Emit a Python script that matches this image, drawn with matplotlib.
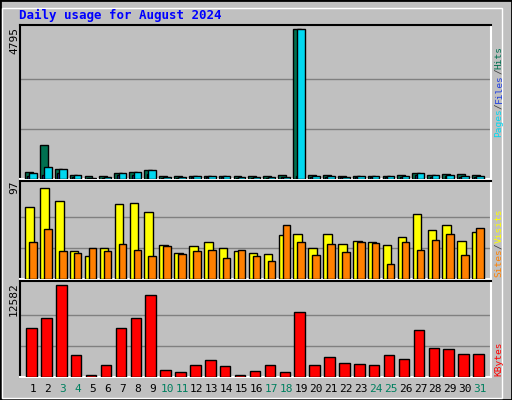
import numpy as np
import matplotlib
matplotlib.use('Agg')
import matplotlib.pyplot as plt
from matplotlib.patches import Rectangle

days = list(range(1, 32))
weekend = [3, 4, 10, 11, 17, 18, 24, 25, 31]
hits = [239, 1085, 336, 141, 87, 108, 206, 239, 304, 87, 87, 108, 108, 108, 87, 87, 87, 141,
        4795, 141, 141, 108, 108, 108, 108, 141, 206, 141, 174, 174, 141]
files = [108, 130, 195, 65, 20, 40, 130, 140, 150, 40, 40, 60, 60, 60, 40, 40, 40, 50,
         100, 60, 60, 50, 60, 60, 60, 60, 130, 70, 90, 70, 60]
pages = [206, 369, 336, 141, 33, 65, 206, 239, 304, 65, 65, 108, 108, 108, 65, 65, 65, 65,
         4795, 108, 108, 65, 108, 108, 108, 108, 206, 141, 141, 108, 108]
visits = [75, 95, 81, 29, 24, 32, 78, 79, 70, 35, 27, 34, 38, 32, 29, 27, 26, 46,
          47, 32, 47, 36, 40, 38, 35, 44, 68, 51, 56, 40, 49]
sites = [38, 52, 29, 27, 32, 29, 36, 30, 24, 34, 26, 29, 30, 22, 30, 24, 19, 56,
         38, 25, 36, 28, 38, 37, 16, 38, 30, 41, 47, 25, 53]
kbytes = [6634, 8006, 12582, 3065, 320, 1693, 6634, 8006, 11209, 1006, 732, 1693, 2379, 1556,
          320, 869, 1693, 732, 8830, 1693, 2791, 1967, 1830, 1693, 3065, 2516, 6359, 3889,
          3752, 3203, 3203]

W, H = 512, 400
fig = plt.figure(figsize=(W / 100, H / 100), dpi=100)
fig.patch.set_facecolor('#c0c0c0')
# outer frame
fig.patches.append(Rectangle((0, 0), 1, 1, transform=fig.transFigure, fill=False,
                             edgecolor='black', linewidth=2))
fig.patches.append(Rectangle((2 / W, 2 / H), 1 - 12 / W, 1 - 10 / H, transform=fig.transFigure,
                             fill=False, edgecolor='white', linewidth=1))

mono = 'DejaVu Sans Mono'
x = np.array(days)
xl = (0.128, 31.74)


def panel(top, bottom):
    ax = fig.add_axes([20 / W, 1 - bottom / H, 471 / W, (bottom - top) / H])
    ax.set_facecolor('#c0c0c0')
    ax.set_xlim(*xl)
    ax.set_xticks([])
    ax.set_yticks([])
    for s in ax.spines.values():
        s.set_color('white')
        s.set_linewidth(1.5)
    ax.spines['top'].set_color('black')
    ax.spines['left'].set_color('black')
    return ax


def bars(ax, vals, left, right, color):
    ax.bar(x + (left + right) / 2, vals, width=right - left, color=color,
           edgecolor='black', linewidth=1, zorder=3)


def grid(ax, ymax):
    for f in (1 / 3, 2 / 3):
        ax.axhline(ymax * f, color='#808080', linewidth=1, zorder=1)


ax1 = panel(25, 179)
m1 = max(hits)
ax1.set_ylim(0, m1 * 1.03)
grid(ax1, m1)
bars(ax1, hits, -0.54, -0.02, '#007050')
bars(ax1, files, -0.38, -0.25, '#2040e0')
bars(ax1, pages, -0.25, 0.25, '#00d8f0')

ax2 = panel(181, 279)
m2 = 97
ax2.set_ylim(0, m2 * 1.05)
grid(ax2, m2)
bars(ax2, visits, -0.52, 0.05, '#ffff00')
bars(ax2, sites, -0.25, 0.25, '#ff8000')

ax3 = panel(281, 377)
m3 = max(kbytes)
ax3.set_ylim(0, m3 * 1.04)
grid(ax3, m3)
bars(ax3, kbytes, -0.45, 0.25, '#ff0000')

for lab, ytop in ((str(m1), 27), (str(m2), 181), (str(m3), 282)):
    fig.text(14 / W, 1 - ytop / H, lab, rotation=90, ha='center', va='top',
             fontsize=8, family=mono)

for d in days:
    ax3.text(d, -0.13, str(d), transform=ax3.get_xaxis_transform(), ha='center', va='center',
             fontsize=8, color='#00805f' if d in weekend else 'black', family=mono)

fig.text(19 / W, 1 - 15 / H, 'Daily usage for August 2024', color='#0000ff', fontsize=9,
         fontweight='bold', family=mono, va='center')

FS = 6.8
STEP = 0.602 * FS * 100 / 72


def side(parts, ybottom):
    y = ybottom
    for t, c in parts:
        fig.text(499 / W, 1 - y / H, t, rotation=90, color=c, fontsize=FS, family=mono,
                 ha='center', va='bottom')
        y -= len(t) * STEP


side([('Pages', '#00d8f0'), ('/', '#404040'), ('Files', '#2040e0'), ('/', '#404040'),
      ('Hits', '#007050')], 137)
side([('Sites', '#ff8000'), ('/', '#404040'), ('Visits', '#ffff00')], 277)
side([('KBytes', '#ff0000')], 376)

fig.savefig('out.png', dpi=100, facecolor=fig.get_facecolor())
